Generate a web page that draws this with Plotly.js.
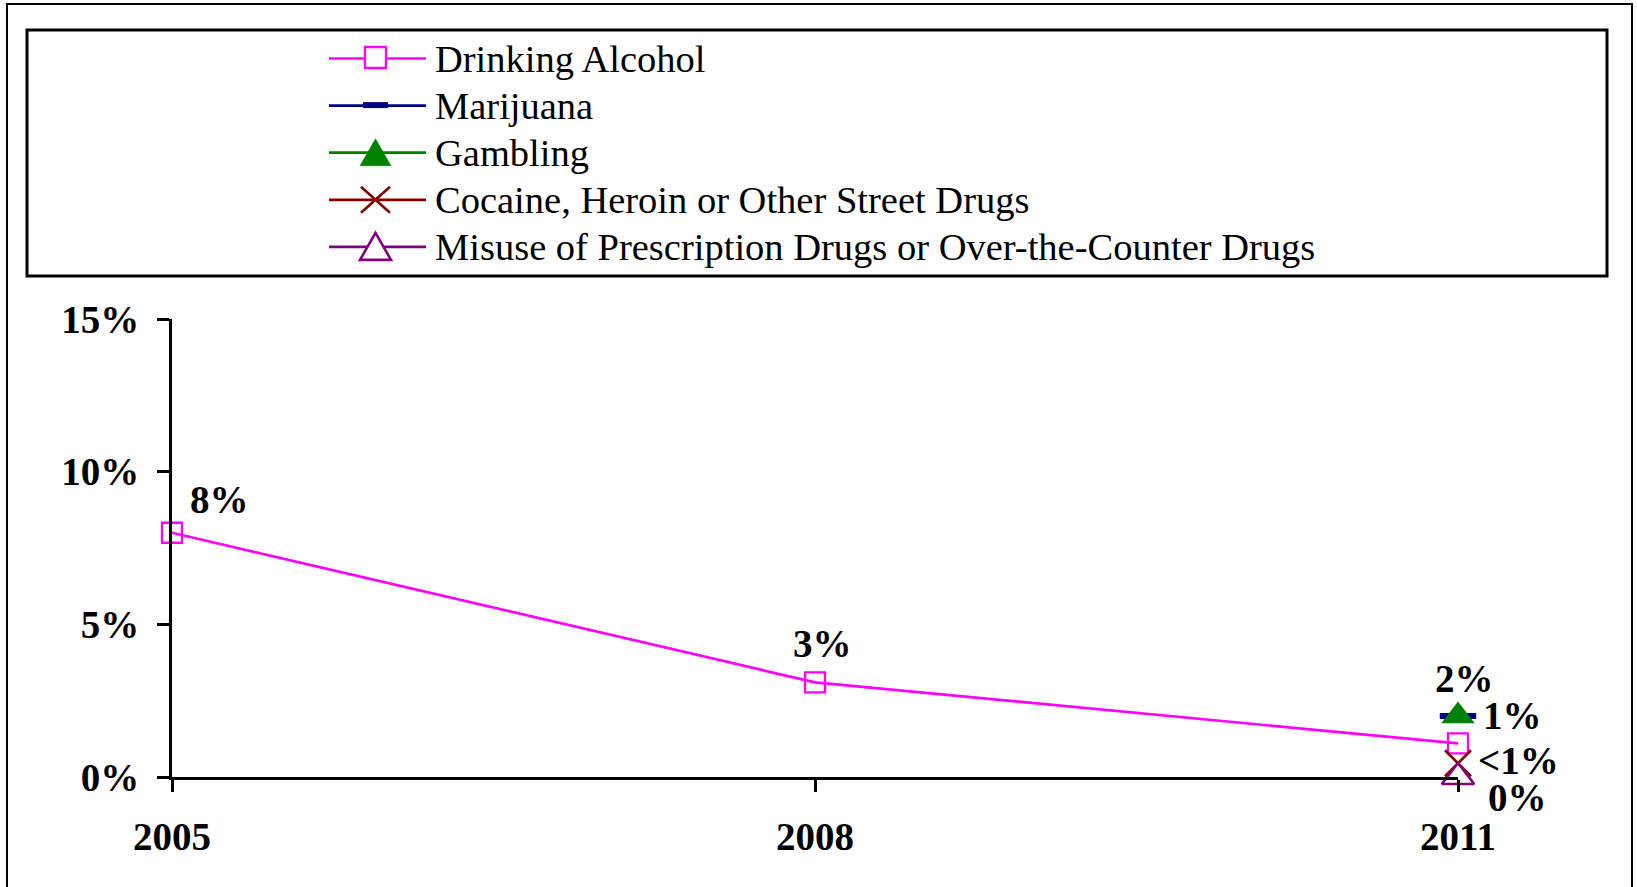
<!DOCTYPE html>
<html>
<head>
<meta charset="utf-8">
<script src="https://cdn.plot.ly/plotly-3.0.1.min.js"></script>
<style>
  html, body { margin: 0; padding: 0; background: #ffffff; }
  #chart { width: 1637px; height: 887px; }
</style>
</head>
<body>
<div id="chart"></div>
<script>
// ---- data ----
const years = [2005, 2008, 2011];
const seriesNames = [
  'Drinking Alcohol',
  'Marijuana',
  'Gambling',
  'Cocaine, Heroin or Other Street Drugs',
  'Misuse of Prescription Drugs or Over-the-Counter Drugs'
];
const drinking  = [8, 3.1, 1.1];
const marijuana = [null, null, 2.0];
const gambling  = [null, null, 2.0];
const cocaine   = [null, null, 0.45];
const misuse    = [null, null, 0];

const drinkingLabels  = ['8%', '3%', '1%'];
const marijuanaLabels = [null, null, null];
const gamblingLabels  = [null, null, '2%'];
const cocaineLabels   = [null, null, '<1%'];
const misuseLabels    = [null, null, '0%'];

const yTickVals = [0, 5, 10, 15];
const yTickText = ['0%', '5%', '10%', '15%'];
const xTickVals = [2005, 2008, 2011];
const xTickText = ['2005', '2008', '2011'];

// ---- styles ----
const colors = ['#FF00FF', '#000080', '#008000', '#800000', '#800080'];
const FONT = '"Liberation Serif", "Times New Roman", serif';
const W = 1637, H = 887;
const M = {l: 172, r: 179, t: 319, b: 110};
const PW = W - M.l - M.r, PH = H - M.t - M.b;
const px = x => (x - M.l) / PW;          // pixel -> paper x
const py = y => (M.t + PH - y) / PH;      // pixel -> paper y

// label offsets (pixels) per series, per point
const labelShift = [
  [[47, 33], [7, 39], [54, 28]],
  [null, null, null],
  [null, null, [6, 37]],
  [null, null, [60, 3]],
  [null, null, [59, -20]]
];

const values = [drinking, marijuana, gambling, cocaine, misuse];
const labels = [drinkingLabels, marijuanaLabels, gamblingLabels, cocaineLabels, misuseLabels];

const markerStyles = [
  {symbol: 'square-open', size: 20, color: colors[0], line: {width: 2.3, color: colors[0]}},
  {symbol: 'line-ew', size: 26, color: colors[1], line: {width: 6, color: colors[1]}},
  {symbol: 'triangle-up', size: 29, color: colors[2], line: {width: 0}},
  {symbol: 'x-thin-open', size: 26, color: colors[3], line: {width: 2.6, color: colors[3]}},
  {symbol: 'triangle-up-open', size: 28, color: colors[4], line: {width: 2.6, color: colors[4]}}
];

const traces = values.map((v, i) => ({
  type: 'scatter',
  mode: 'lines+markers',
  name: seriesNames[i],
  x: years,
  y: v,
  line: {color: colors[i], width: 2.7},
  marker: markerStyles[i],
  cliponaxis: false,
  showlegend: false,
  hoverinfo: 'skip'
}));

// data labels
const annotations = [];
values.forEach((v, i) => {
  labels[i].forEach((t, j) => {
    if (t === null || v[j] === null) return;
    const s = labelShift[i][j] || [0, 0];
    annotations.push({
      x: years[j], y: v[j], xref: 'x', yref: 'y',
      text: t, showarrow: false,
      xanchor: 'center', yanchor: 'middle',
      xshift: s[0], yshift: s[1],
      font: {family: FONT, size: 39, color: '#000000', weight: 'bold'}
    });
  });
});

// ---- custom legend (box, sample lines, symbols, texts) ----
const shapes = [];
// outer chart frame
shapes.push({type: 'rect', xref: 'paper', yref: 'paper',
  x0: px(7), x1: px(1632), y0: py(900), y1: py(4),
  line: {color: '#000000', width: 2}, fillcolor: 'rgba(0,0,0,0)', layer: 'below'});
// legend box
shapes.push({type: 'rect', xref: 'paper', yref: 'paper',
  x0: px(27), x1: px(1607), y0: py(276), y1: py(30),
  line: {color: '#000000', width: 3}, fillcolor: 'rgba(0,0,0,0)', layer: 'below'});

const legRow0 = 58.5, legStep = 47.1;
const legX0 = 329, legX1 = 426, legMid = 375.5, legText = 433;
seriesNames.forEach((name, i) => {
  const yc = legRow0 + i * legStep;
  shapes.push({type: 'line', xref: 'paper', yref: 'paper',
    x0: px(legX0), x1: px(legX1), y0: py(yc), y1: py(yc),
    line: {color: colors[i], width: 2.7}});
  let p;
  if (i === 0) {
    shapes.push({type: 'rect', xref: 'paper', yref: 'paper',
      x0: px(legMid - 10.5), x1: px(legMid + 10.5), y0: py(yc + 9.5), y1: py(yc - 11.5),
      line: {color: colors[i], width: 2.3}, fillcolor: '#ffffff'});
  } else if (i === 1) {
    shapes.push({type: 'rect', xref: 'paper', yref: 'paper',
      x0: px(legMid - 12.5), x1: px(legMid + 12.5), y0: py(yc + 2.5), y1: py(yc - 3.5),
      line: {width: 0}, fillcolor: colors[i]});
  } else if (i === 2 || i === 4) {
    p = 'M' + px(legMid - 15.5) + ',' + py(yc + 13) + ' L' + px(legMid + 15.5) + ',' + py(yc + 13) +
        ' L' + px(legMid) + ',' + py(yc - 14) + ' Z';
    shapes.push({type: 'path', xref: 'paper', yref: 'paper', path: p,
      line: {color: colors[i], width: i === 2 ? 0.5 : 2.6},
      fillcolor: i === 2 ? colors[i] : '#ffffff'});
  } else if (i === 3) {
    p = 'M' + px(legMid - 14.5) + ',' + py(yc - 13) + ' L' + px(legMid + 14.5) + ',' + py(yc + 13) +
        ' M' + px(legMid - 14.5) + ',' + py(yc + 13) + ' L' + px(legMid + 14.5) + ',' + py(yc - 13);
    shapes.push({type: 'path', xref: 'paper', yref: 'paper', path: p,
      line: {color: colors[i], width: 2.6}});
  }
  annotations.push({
    xref: 'paper', yref: 'paper', x: px(legText), y: py(yc),
    xanchor: 'left', yanchor: 'middle', showarrow: false,
    text: name,
    font: {family: FONT, size: 38.5, color: '#000000'}
  });
});

const layout = {
  width: W, height: H,
  margin: M,
  paper_bgcolor: '#ffffff',
  plot_bgcolor: '#ffffff',
  showlegend: false,
  font: {family: FONT, color: '#000000'},
  xaxis: {
    type: 'linear',
    range: [2005, 2011],
    tickvals: xTickVals, ticktext: xTickText,
    ticks: 'outside', ticklen: 12, tickwidth: 3, tickcolor: '#000000',
    showline: true, linecolor: '#000000', linewidth: 3,
    showgrid: false, zeroline: false,
    ticklabelstandoff: 11,
    tickfont: {family: FONT, size: 39, color: '#000000', weight: 'bold'},
    fixedrange: true
  },
  yaxis: {
    range: [0, 15],
    tickvals: yTickVals, ticktext: yTickText,
    ticks: 'outside', ticklen: 12, tickwidth: 3, tickcolor: '#000000',
    showline: true, linecolor: '#000000', linewidth: 3,
    showgrid: false, zeroline: false,
    ticklabelstandoff: 10,
    tickfont: {family: FONT, size: 39, color: '#000000', weight: 'bold'},
    fixedrange: true
  },
  shapes: shapes,
  annotations: annotations
};

Plotly.newPlot('chart', traces, layout, {staticPlot: true, displayModeBar: false});
</script>
</body>
</html>
